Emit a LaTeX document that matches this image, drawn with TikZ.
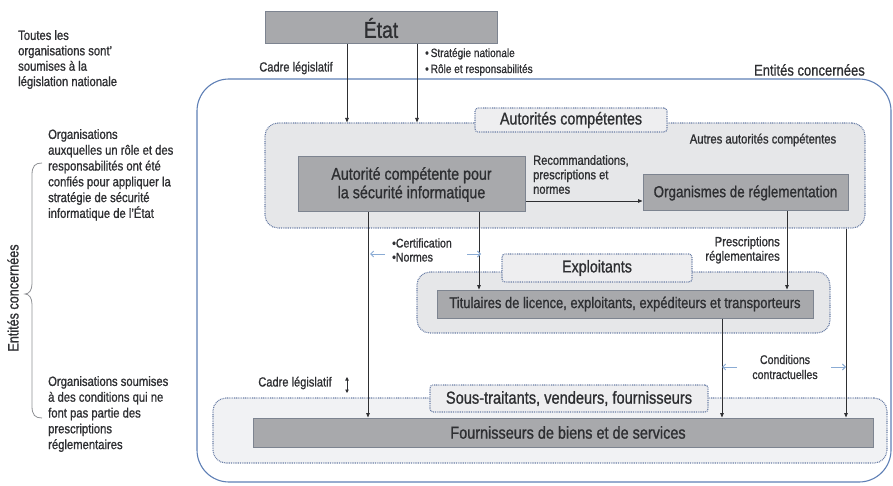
\documentclass[tikz,border=0pt]{standalone}
\usepackage{fontspec}
\setmainfont{Liberation Sans}[FakeStretch=0.84, FakeBold=1.0]
\usetikzlibrary{arrows.meta}

\definecolor{ink}{HTML}{2E2F32}
\definecolor{boxfill}{HTML}{A8A9AC}
\definecolor{boxline}{HTML}{7D8490}
\definecolor{regfill}{HTML}{E6E7E9}
\definecolor{regline}{HTML}{6A7EA6}
\definecolor{tabfill}{HTML}{EEEEF0}
\definecolor{lowfill}{HTML}{F1F2F4}
\definecolor{framecol}{HTML}{5E7FB5}
\definecolor{hintcol}{HTML}{8AABD4}
\definecolor{bracecol}{HTML}{8E9094}

\newcommand{\fs}[2]{\fontsize{#1}{#2}\selectfont}

\tikzset{
  greybox/.style={draw=boxline, line width=1pt, fill=boxfill, inner sep=0pt, text=ink, align=center},
  region/.style={draw=regline, dash pattern=on 0.9pt off 0.9pt, line width=1.1pt,
                 fill=regfill, rounded corners=13pt, inner sep=0pt},
  tabbox/.style={draw=regline, dash pattern=on 0.9pt off 0.9pt, line width=1.1pt,
                 fill=tabfill, rounded corners=3pt, inner sep=0pt, text=ink},
  arr/.style={draw=ink, line width=0.75pt, -{Triangle[length=4.5pt,width=3.6pt]}},
  hintarr/.style={draw=hintcol, line width=0.9pt, -{Straight Barb[length=3pt,width=6pt]}},
  lbl/.style={text=ink, inner sep=0pt, align=left},
}

\begin{document}
\begin{tikzpicture}[x=1pt, y=-1pt]
\useasboundingbox (0,0) rectangle (893,486);

% outer frame of the entities concerned
\draw[framecol, line width=1.1pt, rounded corners=32pt] (197,79) rectangle (891,482);
\node[lbl, anchor=east, font=\fs{15.5}{17}] (ent) at (865,70) {Entités concernées};

% State
\node[greybox, minimum width=232pt, minimum height=32pt, font=\fs{23}{25}] (etat) at (381,28) {État};

% competent authorities
\node[region, minimum width=600pt, minimum height=105pt] (autreg) at (565,175.5) {};
\node[tabbox, minimum width=192pt, minimum height=24pt, font=\fs{17}{19}] (auttab) at (571,120) {Autorités compétentes};
\node[lbl, font=\fs{13.4}{15}] (autres) at (763,140) {Autres autorités compétentes};
\node[greybox, minimum width=227pt, minimum height=55pt, font=\fs{17}{18.5}] (autsec) at (411.5,184.5)
  {Autorité compétente pour\\la sécurité informatique};
\node[greybox, minimum width=205pt, minimum height=36pt, font=\fs{16}{18}] (org) at (745.5,193)
  {Organismes de réglementation};

% operators
\node[region, minimum width=413pt, minimum height=61pt] (expreg) at (623.5,302.5) {};
\node[tabbox, minimum width=190pt, minimum height=28pt, font=\fs{17}{19}] (exptab) at (597,268) {Exploitants};
\node[greybox, minimum width=376pt, minimum height=28pt, font=\fs{15.4}{17}] (tit) at (625,304)
  {Titulaires de licence, exploitants, expéditeurs et transporteurs};

% subcontractors
\node[region, fill=lowfill, minimum width=674pt, minimum height=65pt] (soureg) at (550,430.5) {};
\node[tabbox, minimum width=278pt, minimum height=27pt, font=\fs{17.4}{19}] (soutab) at (569,398.5)
  {Sous-traitants, vendeurs, fournisseurs};
\node[greybox, minimum width=620pt, minimum height=29pt, font=\fs{17.2}{19}] (fourn) at (563,432.5)
  {\hspace*{10pt}Fournisseurs de biens et de services};

% columns of the connectors
\coordinate (cA) at (347,0);
\coordinate (cB) at (417,0);
\coordinate (cC) at (368,0);
\coordinate (cD) at (479,0);
\coordinate (cE) at (787,0);
\coordinate (cF) at (722,0);
\coordinate (cG) at (846,0);
\coordinate (rRec) at (0,201);

\draw[arr] (etat.south -| cA) -- (autreg.north -| cA);
\draw[arr] (etat.south -| cB) -- (autreg.north -| cB);
\draw[arr] (autsec.east |- rRec) -- (org.west |- rRec);
\draw[arr] (autsec.south -| cC) -- (fourn.north -| cC);
\draw[arr] (autsec.south -| cD) -- (tit.north -| cD);
\draw[arr] (org.south -| cE) -- (tit.north -| cE);
\draw[arr] (tit.south -| cF) -- (fourn.north -| cF);
\draw[arr] (autreg.south -| cG) -- (fourn.north -| cG);

% connector labels
\node[lbl, font=\fs{13.2}{15}] (cadre1) at (296,68) {Cadre législatif};
\node[lbl, anchor=north west, font=\fs{12}{16}] (strat) at (425,48)
  {•\,Stratégie nationale\\•\,Rôle et responsabilités};
\node[lbl, anchor=north west, font=\fs{13.2}{14.5}] (recom) at (533,155)
  {Recommandations,\\prescriptions et\\normes};
\node[lbl, anchor=west, font=\fs{12.6}{14}] (cert) at (392,250) {•Certification\\•Normes};
\node[lbl, anchor=east, align=right, font=\fs{13.4}{14.5}] (presc) at (780,250)
  {Prescriptions\\réglementaires};
\node[lbl, align=center, font=\fs{12.6}{15}] (cond) at (785,367) {Conditions\\contractuelles};
\node[lbl, font=\fs{13.2}{15}] (cadre2) at (295,383) {Cadre législatif};

% pale hint arrows
\coordinate (h1a) at (385,254); \coordinate (h1b) at (370,254);
\coordinate (h2a) at (467,254); \coordinate (h2b) at (481,254);
\coordinate (h3a) at (737,367); \coordinate (h3b) at (722,367);
\coordinate (h4a) at (831,367); \coordinate (h4b) at (846,367);
\draw[hintarr] (h1a) -- (h1b);
\draw[hintarr] (h2a) -- (h2b);
\draw[hintarr] (h3a) -- (h3b);
\draw[hintarr] (h4a) -- (h4b);

% small double arrow beside the lower legal frame label
\coordinate (dA) at (347,377); \coordinate (dB) at (347,393);
\draw[ink, line width=0.8pt, {Triangle[length=3.5pt,width=3.5pt]}-{Triangle[length=3.5pt,width=3.5pt]}] (dA) -- (dB);

% left-hand notes
\node[lbl, anchor=north west, font=\fs{13.4}{15.4}] (note1) at (18,30)
  {Toutes les\\organisations sont’\\soumises à la\\législation nationale};
\node[lbl, anchor=north west, font=\fs{13.4}{15.8}] (note2) at (48,129)
  {Organisations\\auxquelles un rôle et des\\responsabilités ont été\\confiés pour appliquer la\\stratégie de sécurité\\informatique de l’État};
\node[lbl, anchor=north west, font=\fs{13.4}{15.8}] (note3) at (48,376)
  {Organisations soumises\\à des conditions qui ne\\font pas partie des\\prescriptions\\réglementaires};

% brace grouping the two lower notes
\draw[bracecol, line width=0.8pt]
  (42,163) .. controls (35,163) and (32,166) .. (32,175) -- (32,284)
  .. controls (32,290) and (29,294) .. (25,294)
  .. controls (29,294) and (32,298) .. (32,304) -- (32,406)
  .. controls (32,415) and (35,418) .. (42,418);
\node[lbl, rotate=90, font=\fs{15}{17}] (entside) at (13,298) {Entités concernées};

\end{tikzpicture}
\end{document}
